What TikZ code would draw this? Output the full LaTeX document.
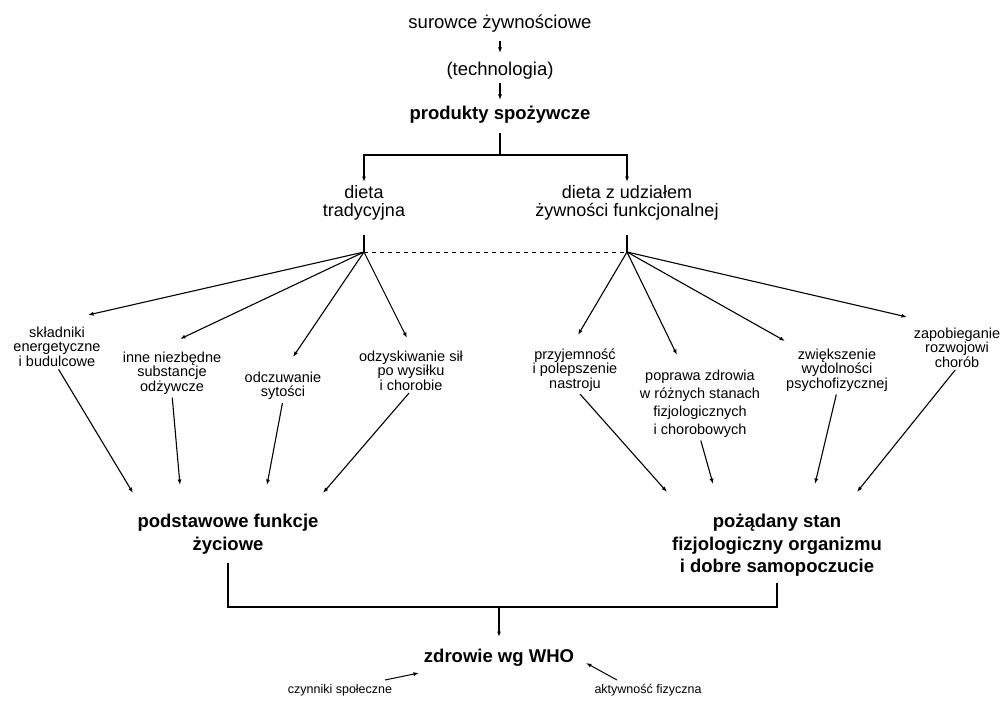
\documentclass[tikz,border=0pt]{standalone}
\usepackage{fontspec}
\setmainfont{Liberation Sans}
\usetikzlibrary{arrows.meta,calc}
\newcommand{\myfs}[2]{\fontsize{#1}{#2}\selectfont}
\begin{document}
\begin{tikzpicture}[x=1pt,y=-1pt,line width=1.1pt,
  arr/.style={-{Latex[length=5.5pt,width=4pt]}},
  tx/.style={font=\myfs{18.5}{20}, inner sep=0pt, anchor=north},
  bx/.style={font=\bfseries\myfs{18.5}{22.5}, inner sep=0pt, anchor=north, align=center},
  dt/.style={font=\myfs{18}{18}, inner sep=0pt, anchor=north, align=center},
  lb/.style={font=\myfs{14.5}{14.5}, inner sep=0pt, anchor=north, align=center},
  sm/.style={font=\myfs{12.5}{14}, inner sep=0pt, anchor=north}]
\useasboundingbox (0,0) rectangle (1002,701);
\fill[white] (0,0) rectangle (1002,701);

% top chain
\node[tx] (s1) at (500,14) {surowce żywnościowe};
\node[tx] (s2) at (500,62) {(technologia)};
\node[bx] (s3) at (500,106) {produkty spożywcze};
\coordinate (j) at (500,155);

\node[dt] (d1) at (364,185) {dieta\\tradycyjna};
\node[dt] (d2) at (627,185) {dieta z udziałem\\żywności funkcjonalnej};
\coordinate (h1) at (364,252);
\coordinate (h2) at (627,252);

% labels, left fan
\node[lb] (L1) at (57,326) {składniki\\energetyczne\\i budulcowe};
\node[lb] (L2) at (172,351) {inne niezbędne\\substancje\\odżywcze};
\node[lb] (L3) at (283,371) {odczuwanie\\sytości};
\node[lb] (L4) at (411,350) {odzyskiwanie sił\\po wysiłku\\i chorobie};
% labels, right fan
\node[lb] (R1) at (575,348) {przyjemność\\i polepszenie\\nastroju};
\node[lb, font=\myfs{14.5}{18}] (R2) at (700,369) {poprawa zdrowia\\w różnych stanach\\fizjologicznych\\i chorobowych};
\node[lb] (R3) at (837,348) {zwiększenie\\wydolności\\psychofizycznej};
\node[lb] (R4) at (957,327) {zapobieganie\\rozwojowi\\chorób};

% bottom nodes
\node[bx] (B1) at (228,514) {podstawowe funkcje\\życiowe};
\node[bx] (B2) at (777,514) {pożądany stan\\fizjologiczny organizmu\\i dobre samopoczucie};
\coordinate (k) at (499,607);
\node[bx] (W) at (499,649) {zdrowie wg WHO};
\node[sm] (cz) at (340,684) {czynniki społeczne};
\node[sm] (ak) at (648,684) {aktywność fizyczna};

% connectors top
\draw[arr, shorten <=8pt, shorten >=9pt] (s1) -- (s2);
\draw[arr, shorten <=3pt, shorten >=6pt] (s2) -- (s3);
\draw[shorten <=9pt] (s3) -- (j);
\draw[arr, shorten >=3pt] (j) -| (d1);
\draw[arr, shorten >=3pt] (j) -| (d2);
\draw[shorten <=14pt] (d1) -- (h1);
\draw[shorten <=14pt] (d2) -- (h2);
\draw[line width=1pt, dash pattern=on 4pt off 4pt] (h1) -- (h2);

% fans
\draw[arr] (h1) -- ([xshift=31pt,yshift=11pt]L1.north);
\draw[arr] (h1) -- ([xshift=8pt,yshift=12pt]L2.north);
\draw[arr] (h1) -- ([xshift=10pt,yshift=14pt]L3.north);
\draw[arr] (h1) -- ([xshift=-4pt,yshift=12pt]L4.north);
\draw[arr] (h2) -- ([xshift=3pt,yshift=13pt]R1.north);
\draw[arr] (h2) -- ([xshift=-23pt,yshift=14pt]R2.north);
\draw[arr] (h2) -- ([xshift=-52pt,yshift=7pt]R3.north);
\draw[arr] (h2) -- ([xshift=-50pt,yshift=10pt]R4.north);

% labels to bottom nodes
\draw[arr, shorten <=3pt] (L1.south) -- ([xshift=-95pt,yshift=21pt]B1.north);
\draw[arr, shorten <=3pt] (L2.south) -- ([xshift=-48pt,yshift=29pt]B1.north);
\draw[arr, shorten <=3pt] (L3.south) -- ([xshift=39pt,yshift=29pt]B1.north);
\draw[arr, shorten <=3pt] (L4.south) -- ([xshift=95pt,yshift=21pt]B1.north);
\draw[arr, shorten <=3pt] ([xshift=3pt]R1.south) -- ([xshift=-110pt,yshift=22pt]B2.north);
\draw[arr, shorten <=3pt] (R2.south) -- ([xshift=-64pt,yshift=30pt]B2.north);
\draw[arr, shorten <=3pt] (R3.south) -- ([xshift=38pt,yshift=30pt]B2.north);
\draw[arr, shorten <=3pt] (R4.south) -- ([xshift=80pt,yshift=22pt]B2.north);

% bottom bracket
\draw[shorten <=8pt, shorten >=6pt] (B1.south) -- (B1.south |- k) -- (B2.south |- k) -- (B2.south);
\draw[arr, shorten >=12pt] (k) -- (W);
\draw[arr, line width=1pt] ([xshift=45pt,yshift=4pt]cz.north) -- ([xshift=-80pt,yshift=-24pt]W.north);
\draw[arr, line width=1pt] ([xshift=-31pt,yshift=4pt]ak.north) -- ([xshift=87pt,yshift=-14pt]W.north);
\end{tikzpicture}
\end{document}
